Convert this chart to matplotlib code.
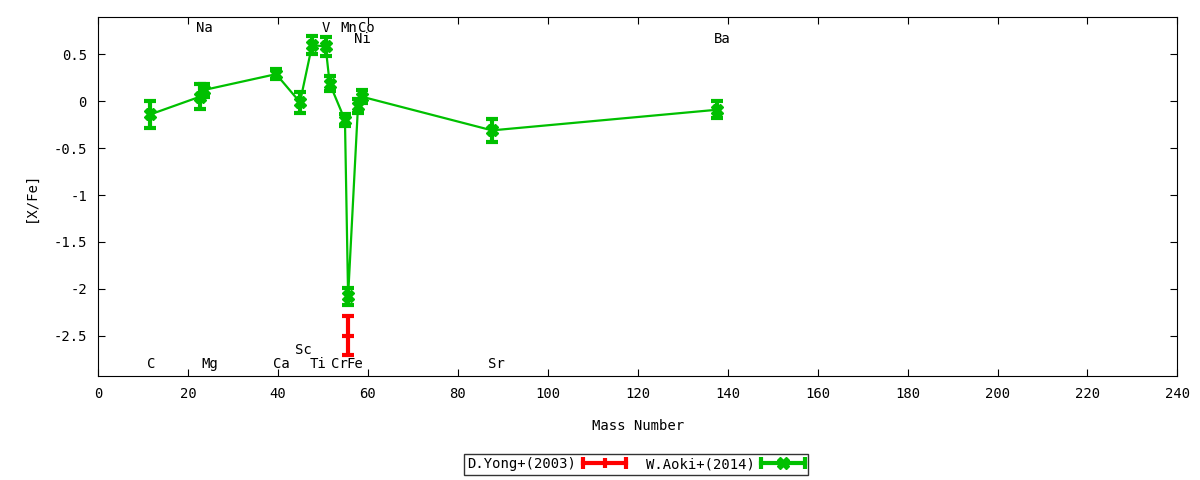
import matplotlib
matplotlib.use('Agg')
import matplotlib.pyplot as plt
from matplotlib.lines import Line2D
from matplotlib.legend_handler import HandlerBase

plt.rcParams['font.family'] = ['DejaVu Sans Mono', 'DejaVu Sans']

# W.Aoki+(2014)
aoki_mass = [11.6, 22.7, 23.5, 39.6, 44.9, 47.6, 50.6, 51.5, 54.9, 55.6, 57.8, 58.6, 87.6, 137.6]
aoki_xfe = [-0.14, 0.05, 0.12, 0.29, -0.01, 0.60, 0.585, 0.19, -0.20, -2.08, -0.05, 0.05, -0.31, -0.09]
aoki_err = [0.14, 0.13, 0.07, 0.05, 0.11, 0.10, 0.10, 0.08, 0.06, 0.09, 0.07, 0.07, 0.12, 0.09]

# D.Yong+(2003)
yong_mass = [55.6]
yong_xfe = [-2.50]
yong_err = [0.21]

# element labels
elem_names = ['C', 'Na', 'Mg', 'Ca', 'Sc', 'Ti', 'V', 'Cr', 'Mn', 'Fe', 'Ni', 'Co', 'Sr', 'Ba']
elem_x = [11.8, 23.6, 24.9, 40.7, 45.6, 49.0, 50.7, 53.6, 55.8, 57.0, 58.7, 59.6, 88.5, 138.8]
elem_y = [-2.80, 0.78, -2.80, -2.80, -2.65, -2.80, 0.78, -2.80, 0.78, -2.80, 0.67, 0.78, -2.80, 0.67]

GREEN = '#00c000'
RED = '#ff0000'


class HorizErrHandler(HandlerBase):
    # horizontal errorbar sample, gnuplot style
    def __init__(self, color, mid_marker, mid_size, mid_mew):
        super().__init__()
        self.color = color
        self.mid_marker = mid_marker
        self.mid_size = mid_size
        self.mid_mew = mid_mew

    def create_artists(self, legend, orig_handle, xdescent, ydescent,
                       width, height, fontsize, trans):
        y = (height - ydescent) / 2
        x0, x1 = -xdescent, -xdescent + width
        xm = (x0 + x1) / 2
        line = Line2D([x0, x1], [y, y], color=self.color, lw=3, transform=trans)
        caps = Line2D([x0, x1], [y, y], color=self.color, lw=0, marker='|',
                      ms=8, mew=3, transform=trans)
        mid = Line2D([xm], [y], color=self.color, lw=0, marker=self.mid_marker,
                     ms=self.mid_size, mew=self.mid_mew, transform=trans)
        return [line, caps, mid]


fig = plt.figure(figsize=(12, 4.8), dpi=100, facecolor='white')
ax = fig.add_axes([0.0817, 0.2167, 0.8995, 0.748])

ax.errorbar(yong_mass, yong_xfe, yerr=yong_err, color=RED, lw=2,
            elinewidth=3, capsize=4, capthick=3, marker='_', ms=8, mew=3)
ax.errorbar(aoki_mass, aoki_xfe, yerr=aoki_err, color=GREEN, lw=1.6,
            elinewidth=3, capsize=4, capthick=3, marker='X', ms=8)

for name, x, y in zip(elem_names, elem_x, elem_y):
    ax.text(x, y, name, ha='center', va='center', fontsize=10)

ax.set_xlim(0, 240)
ax.set_ylim(-2.93, 0.9)
ax.set_xticks(range(0, 241, 20))
ax.set_yticks([0.5, 0, -0.5, -1, -1.5, -2, -2.5])
ax.set_yticklabels(['0.5', '0', '-0.5', '-1', '-1.5', '-2', '-2.5'])
ax.tick_params(direction='in', top=True, right=True, labelsize=10, length=5, pad=8)
ax.set_xlabel('Mass Number', fontsize=10, labelpad=13)
ax.set_ylabel('[X/Fe]', fontsize=10, labelpad=11)

p_yong = Line2D([], [], color=RED)
p_aoki = Line2D([], [], color=GREEN)
leg = ax.legend([p_yong, p_aoki], ['D.Yong+(2003)', 'W.Aoki+(2014)'],
                handler_map={p_yong: HorizErrHandler(RED, '|', 7, 3),
                             p_aoki: HorizErrHandler(GREEN, 'X', 8, 1)},
                loc='center', bbox_to_anchor=(0.4983, -0.246), ncol=2,
                markerfirst=False, frameon=True, fancybox=False, fontsize=10,
                handlelength=3.1, borderpad=0.25, columnspacing=1.4,
                handletextpad=0.5)
leg.get_frame().set_edgecolor('black')
leg.get_frame().set_linewidth(1)

fig.savefig('out.png', dpi=100, facecolor='white')
